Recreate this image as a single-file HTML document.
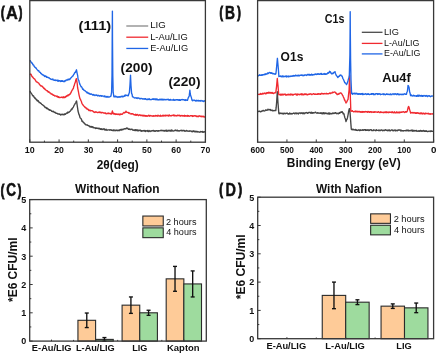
<!DOCTYPE html>
<html><head><meta charset="utf-8"><style>
html,body{margin:0;padding:0;background:#fff;width:437px;height:354px;overflow:hidden}
svg{display:block;filter:blur(0.35px)}
text{font-family:"Liberation Sans",sans-serif;fill:#111}
</style></head><body>
<svg width="437" height="354" viewBox="0 0 437 354" font-family="Liberation Sans, sans-serif">
<rect width="437" height="354" fill="#fff"/>
<polyline points="30.0,90.9 30.4,92.3 30.8,92.9 31.2,93.0 31.7,93.9 32.1,94.5 32.5,95.4 32.9,96.0 33.3,95.8 33.8,96.2 34.2,97.6 34.6,97.7 35.0,98.6 35.4,98.1 35.8,99.0 36.2,99.7 36.7,99.5 37.1,100.7 37.5,101.0 37.9,100.5 38.3,100.8 38.8,101.8 39.2,102.6 39.6,102.4 40.0,102.6 40.4,103.2 40.8,103.1 41.2,103.6 41.7,104.2 42.1,104.6 42.5,104.7 42.9,105.1 43.3,105.4 43.8,106.0 44.2,106.2 44.6,106.2 45.0,107.5 45.4,107.4 45.8,107.7 46.2,107.5 46.7,108.6 47.1,108.7 47.5,108.1 47.9,108.6 48.3,109.3 48.8,109.5 49.2,110.0 49.6,109.7 50.0,110.4 50.4,110.4 50.8,110.2 51.2,110.7 51.7,111.3 52.1,111.5 52.5,111.3 52.9,111.6 53.3,111.2 53.8,111.7 54.2,112.5 54.6,112.3 55.0,112.2 55.4,112.8 55.8,113.2 56.2,113.3 56.7,113.1 57.1,113.4 57.5,113.6 57.9,114.1 58.3,114.0 58.8,114.0 59.2,114.3 59.6,113.9 60.0,114.1 60.4,114.8 60.8,115.1 61.2,114.6 61.7,114.3 62.1,114.1 62.5,114.4 62.9,114.9 63.3,114.6 63.8,114.3 64.2,114.7 64.6,113.9 65.0,114.2 65.4,114.4 65.8,113.8 66.2,113.4 66.7,112.9 67.1,113.0 67.5,113.2 67.9,111.9 68.3,112.5 68.8,112.3 69.2,112.1 69.6,111.7 70.0,111.5 70.4,110.8 70.8,110.4 71.1,109.8 71.5,109.0 71.9,109.5 72.2,108.7 72.6,107.9 73.0,107.8 73.4,107.0 73.8,106.0 74.2,105.2 74.6,104.6 75.0,103.8 75.4,103.2 75.8,102.5 76.2,101.4 76.6,101.0 76.9,103.3 77.3,106.1 77.7,108.7 78.0,111.0 78.5,112.8 79.0,114.6 79.5,115.5 80.0,117.6 80.4,118.2 80.8,118.3 81.2,118.9 81.6,119.7 82.0,121.3 82.4,121.1 82.8,121.4 83.1,122.4 83.5,122.5 83.9,122.6 84.2,123.1 84.6,123.9 85.0,123.9 85.4,124.2 85.8,124.9 86.2,124.8 86.7,124.9 87.1,125.2 87.5,124.9 87.9,125.5 88.3,125.7 88.8,125.7 89.2,125.8 89.6,126.8 90.0,126.6 90.4,126.4 90.8,126.9 91.2,127.3 91.7,126.5 92.1,126.6 92.5,126.9 92.9,127.6 93.3,127.1 93.8,127.8 94.2,127.9 94.6,127.8 95.0,127.6 95.4,128.5 95.8,128.4 96.2,128.1 96.7,127.9 97.1,128.4 97.5,128.2 97.9,128.5 98.3,128.3 98.8,128.7 99.2,128.2 99.6,128.5 100.0,129.3 100.4,129.3 100.8,128.7 101.2,129.4 101.7,128.8 102.1,129.6 102.5,129.4 102.9,129.1 103.3,129.0 103.8,128.8 104.2,129.8 104.6,128.9 105.0,129.9 105.4,130.1 105.8,129.7 106.2,129.3 106.7,130.1 107.1,130.3 107.5,130.0 107.9,129.9 108.3,129.8 108.8,129.8 109.2,129.7 109.6,130.2 110.0,130.0 110.4,129.8 110.8,129.7 111.2,130.4 111.7,130.0 112.1,130.2 112.5,130.1 112.9,130.7 113.3,130.7 113.8,129.8 114.2,130.0 114.6,130.2 115.0,130.9 115.4,130.7 115.8,130.2 116.2,130.0 116.7,130.5 117.1,130.6 117.5,130.7 117.9,130.0 118.3,130.6 118.8,130.3 119.2,130.0 119.6,130.6 120.0,129.7 120.4,130.1 120.8,129.3 121.2,129.3 121.6,130.1 122.0,129.2 122.4,129.7 122.8,129.4 123.2,129.6 123.6,129.0 124.0,128.8 124.4,128.6 124.8,129.1 125.2,128.7 125.6,128.9 126.0,128.7 126.4,128.0 126.8,128.5 127.1,128.1 127.5,128.1 127.9,128.3 128.2,129.2 128.6,129.2 129.0,129.4 129.4,128.9 129.8,129.3 130.2,129.6 130.6,129.2 131.0,129.5 131.4,129.2 131.8,129.1 132.2,129.4 132.6,130.1 133.0,129.9 133.4,130.3 133.8,129.9 134.2,129.8 134.6,130.4 135.0,130.6 135.4,129.7 135.8,130.5 136.2,129.8 136.6,129.9 137.0,130.8 137.4,129.9 137.8,130.1 138.2,131.0 138.6,130.4 139.0,130.1 139.4,130.2 139.8,130.3 140.2,130.9 140.6,130.2 141.0,131.1 141.4,130.6 141.8,131.3 142.2,131.2 142.6,130.6 143.0,130.6 143.4,130.8 143.8,130.5 144.2,131.1 144.6,130.5 145.0,130.5 145.4,131.5 145.8,130.8 146.2,131.1 146.6,130.9 147.0,130.8 147.4,130.5 147.8,131.4 148.2,131.5 148.6,131.5 148.9,130.5 149.3,130.6 149.7,131.1 150.1,131.5 150.5,131.0 150.9,131.1 151.3,131.1 151.7,130.6 152.1,131.0 152.5,130.7 152.9,130.6 153.3,130.4 153.7,130.6 154.1,131.4 154.5,130.8 154.9,131.0 155.3,131.0 155.7,131.3 156.1,130.7 156.4,130.6 156.8,130.7 157.2,130.6 157.6,131.2 158.0,131.3 158.4,130.6 158.8,130.6 159.2,130.9 159.6,130.9 160.0,130.9 160.4,130.5 160.8,130.3 161.2,130.5 161.6,130.3 162.0,130.8 162.4,130.3 162.8,130.3 163.2,130.9 163.6,130.5 163.9,131.0 164.3,130.7 164.7,131.1 165.1,130.3 165.5,130.7 165.9,131.0 166.3,130.2 166.7,131.2 167.1,130.3 167.5,131.0 167.9,131.2 168.3,131.0 168.7,130.4 169.1,130.2 169.5,130.6 169.9,131.1 170.3,130.4 170.7,131.0 171.1,130.2 171.4,131.0 171.8,130.0 172.2,130.4 172.6,131.0 173.0,130.9 173.4,131.0 173.8,130.9 174.2,130.8 174.6,130.7 175.0,130.1 175.4,130.4 175.8,130.2 176.2,130.8 176.6,130.7 177.0,130.3 177.4,130.1 177.8,131.1 178.2,131.0 178.6,130.7 178.9,130.7 179.3,131.1 179.7,130.6 180.1,130.6 180.5,130.5 180.9,130.5 181.3,130.2 181.7,130.9 182.1,130.7 182.5,130.9 182.9,130.3 183.3,130.7 183.7,130.4 184.1,130.5 184.5,130.6 184.9,131.3 185.3,130.8 185.7,130.8 186.1,131.1 186.4,130.7 186.8,130.4 187.2,131.0 187.6,131.0 188.0,131.2 188.4,131.0 188.8,131.3 189.2,131.3 189.6,130.8 190.0,131.1 190.4,131.1 190.8,130.9 191.2,131.1 191.6,131.3 192.0,131.7 192.4,131.7 192.8,131.0 193.2,131.5 193.6,130.8 193.9,130.9 194.3,131.4 194.7,131.8 195.1,131.1 195.5,131.8 195.9,131.9 196.3,131.3 196.7,131.8 197.1,132.0 197.5,131.5 197.9,131.8 198.3,131.9 198.7,131.8 199.1,132.1 199.5,132.2 199.9,132.3 200.3,131.9 200.7,131.5 201.1,131.6 201.4,131.6 201.8,132.0 202.2,132.2 202.6,131.4 203.0,132.2 203.4,132.2 203.8,131.9 204.2,132.1 204.6,131.7 205.0,132.4" fill="none" stroke="#454545" stroke-width="1.35" stroke-linejoin="round"/>
<polyline points="30.0,73.9 30.4,74.5 30.8,74.0 31.2,74.6 31.7,76.0 32.1,76.5 32.5,77.0 32.9,77.1 33.3,77.9 33.8,78.4 34.2,78.9 34.6,78.9 35.0,79.7 35.4,80.1 35.8,80.9 36.2,81.6 36.7,82.0 37.1,82.0 37.5,82.3 37.9,82.6 38.3,82.8 38.8,83.2 39.2,84.1 39.6,84.4 40.0,84.9 40.4,85.8 40.8,85.7 41.2,86.1 41.7,86.0 42.1,86.1 42.5,86.8 42.9,86.9 43.3,87.7 43.8,88.5 44.2,88.5 44.6,88.3 45.0,89.4 45.4,89.7 45.8,89.9 46.2,90.4 46.7,90.6 47.1,90.9 47.5,90.8 47.9,91.8 48.3,92.1 48.8,91.6 49.2,92.5 49.6,92.8 50.0,92.9 50.4,93.2 50.8,93.4 51.2,94.1 51.7,93.9 52.1,94.5 52.5,94.2 52.9,95.0 53.3,95.3 53.8,95.0 54.2,95.4 54.6,96.0 55.0,96.0 55.4,95.9 55.8,95.8 56.2,96.0 56.7,96.6 57.1,96.1 57.5,97.0 57.9,96.5 58.3,97.3 58.8,96.8 59.2,97.6 59.6,97.5 60.0,97.4 60.4,97.4 60.8,97.5 61.2,97.4 61.7,97.1 62.1,97.0 62.5,97.3 62.9,97.8 63.3,97.4 63.8,96.8 64.2,97.6 64.6,97.5 65.0,97.6 65.4,96.6 65.8,97.0 66.2,96.0 66.7,96.4 67.1,95.7 67.5,95.4 67.9,95.9 68.3,94.8 68.8,95.0 69.2,95.1 69.6,94.2 70.0,93.9 70.4,94.0 70.8,92.8 71.1,92.5 71.5,91.1 71.9,90.9 72.2,90.0 72.6,89.9 73.0,88.6 73.4,88.4 73.8,86.2 74.2,85.8 74.6,83.9 75.0,82.9 75.3,82.3 75.7,80.4 76.1,79.3 76.4,78.6 76.8,81.1 77.2,83.5 77.6,87.5 78.0,89.6 78.5,92.0 79.0,94.8 79.5,96.9 80.0,98.9 80.4,99.1 80.8,100.3 81.2,100.9 81.6,102.3 82.0,103.6 82.4,104.1 82.8,104.8 83.1,105.1 83.5,105.7 83.9,106.1 84.2,106.3 84.6,106.6 85.0,107.6 85.4,107.5 85.8,107.5 86.1,108.2 86.5,108.9 86.9,108.4 87.2,109.1 87.6,109.2 88.0,109.6 88.4,109.4 88.8,110.5 89.2,110.0 89.6,110.6 90.0,110.6 90.4,110.3 90.8,111.0 91.2,110.6 91.7,110.6 92.1,110.7 92.5,111.0 92.9,111.0 93.3,111.7 93.8,111.7 94.2,112.3 94.6,112.4 95.0,112.5 95.4,111.8 95.8,112.0 96.2,111.9 96.7,112.3 97.1,112.4 97.5,112.6 97.9,112.6 98.3,112.1 98.8,112.4 99.2,112.5 99.6,112.0 100.0,112.1 100.4,112.5 100.8,112.3 101.2,113.0 101.7,112.5 102.1,112.4 102.5,112.5 102.9,112.7 103.3,112.7 103.8,113.1 104.2,113.1 104.6,112.9 105.0,113.4 105.4,112.9 105.8,113.7 106.2,113.8 106.7,113.6 107.1,113.3 107.5,113.5 107.9,113.6 108.3,113.0 108.8,113.5 109.2,113.6 109.6,113.3 110.0,113.3 110.4,114.0 110.8,113.5 111.2,113.6 111.6,114.1 112.0,112.5 112.4,111.0 112.8,113.0 113.2,113.7 113.6,113.3 114.0,114.1 114.4,113.5 114.8,113.8 115.2,114.5 115.6,114.3 116.0,113.7 116.4,114.2 116.8,114.2 117.2,114.4 117.6,114.1 118.0,114.6 118.4,114.0 118.8,114.2 119.2,114.3 119.6,114.9 120.0,113.9 120.4,114.6 120.8,114.0 121.2,114.3 121.6,114.1 122.0,114.2 122.4,114.2 122.8,113.6 123.2,113.0 123.6,112.7 124.0,112.4 124.4,113.0 124.8,112.5 125.2,112.6 125.6,112.1 126.0,111.1 126.4,112.0 126.8,112.3 127.1,112.4 127.5,112.3 127.9,112.3 128.2,112.6 128.6,113.2 129.0,112.7 129.4,113.1 129.8,113.2 130.2,113.8 130.6,113.8 131.0,114.0 131.4,114.0 131.8,113.6 132.2,113.6 132.6,114.0 133.0,113.9 133.4,114.2 133.8,114.6 134.2,114.9 134.6,114.7 135.0,115.0 135.4,114.3 135.8,114.6 136.2,115.4 136.6,114.5 137.0,114.8 137.4,114.5 137.8,114.6 138.2,115.5 138.6,115.6 139.0,115.3 139.4,114.8 139.8,115.0 140.2,115.0 140.6,115.5 141.0,115.6 141.4,115.3 141.8,115.5 142.2,115.1 142.6,115.6 143.0,116.1 143.4,115.9 143.8,115.2 144.2,115.7 144.6,116.0 145.0,115.5 145.4,116.2 145.8,115.8 146.2,116.0 146.6,115.7 147.0,116.3 147.4,116.1 147.8,115.9 148.2,115.4 148.6,115.7 148.9,115.3 149.3,115.9 149.7,116.2 150.1,115.4 150.5,115.8 150.9,115.7 151.3,115.7 151.7,116.0 152.1,116.2 152.5,116.0 152.9,115.7 153.3,116.3 153.7,115.6 154.1,116.0 154.5,115.9 154.9,116.0 155.3,116.1 155.7,115.4 156.1,115.9 156.4,115.6 156.8,115.9 157.2,116.2 157.6,115.9 158.0,115.2 158.4,115.7 158.8,115.9 159.2,116.1 159.6,115.9 160.0,116.0 160.4,115.2 160.8,116.2 161.2,115.9 161.6,115.8 162.0,116.1 162.4,116.1 162.8,115.2 163.2,116.0 163.6,115.9 163.9,115.3 164.3,115.9 164.7,115.7 165.1,115.3 165.5,116.0 165.9,115.2 166.3,115.7 166.7,115.5 167.1,115.3 167.5,115.7 167.9,115.6 168.3,115.3 168.7,116.1 169.1,115.1 169.5,115.0 169.9,115.6 170.3,115.9 170.7,115.7 171.1,115.8 171.4,115.5 171.8,115.7 172.2,115.4 172.6,115.3 173.0,115.5 173.4,115.0 173.8,115.1 174.2,115.8 174.6,115.1 175.0,115.8 175.4,115.8 175.8,115.4 176.2,115.7 176.6,115.9 177.0,116.0 177.4,115.2 177.8,115.2 178.2,115.5 178.6,115.6 178.9,115.4 179.3,115.1 179.7,115.7 180.1,116.2 180.5,115.5 180.9,115.7 181.3,115.5 181.7,115.6 182.1,116.1 182.5,115.5 182.9,115.9 183.3,115.7 183.7,115.8 184.1,116.2 184.5,115.3 184.9,116.1 185.3,115.6 185.7,115.9 186.1,116.1 186.4,116.0 186.8,115.7 187.2,116.2 187.6,115.4 188.0,116.0 188.4,115.7 188.8,115.9 189.2,116.3 189.6,116.2 190.0,116.0 190.4,115.7 190.8,115.6 191.2,115.9 191.6,115.7 192.0,115.7 192.4,116.5 192.8,115.6 193.2,116.4 193.6,115.9 193.9,115.9 194.3,115.9 194.7,115.6 195.1,116.1 195.5,115.8 195.9,116.1 196.3,115.9 196.7,116.6 197.1,116.6 197.5,116.1 197.9,116.4 198.3,116.7 198.7,116.1 199.1,115.8 199.5,116.0 199.9,116.0 200.3,116.5 200.7,116.2 201.1,116.2 201.4,116.7 201.8,116.1 202.2,116.7 202.6,116.6 203.0,116.3 203.4,116.8 203.8,116.3 204.2,116.9 204.6,117.0 205.0,116.5" fill="none" stroke="#f02a30" stroke-width="1.35" stroke-linejoin="round"/>
<polyline points="30.0,60.2 30.4,61.1 30.8,61.5 31.2,62.4 31.7,63.0 32.1,62.9 32.5,63.5 32.9,64.9 33.3,64.7 33.8,65.2 34.2,66.5 34.6,66.5 35.0,67.4 35.4,67.4 35.8,68.1 36.2,68.0 36.7,69.0 37.1,69.7 37.5,69.8 37.9,70.5 38.3,70.9 38.8,70.6 39.2,71.9 39.6,72.1 40.0,72.3 40.4,72.3 40.8,73.5 41.2,73.4 41.7,74.0 42.1,74.5 42.5,74.6 42.9,75.1 43.3,74.9 43.8,75.6 44.2,75.5 44.6,76.4 45.0,76.6 45.4,75.9 45.8,76.2 46.2,76.4 46.7,77.4 47.1,77.0 47.5,77.4 47.9,77.3 48.3,77.7 48.8,77.7 49.2,77.9 49.6,78.3 50.0,78.5 50.4,79.0 50.8,78.9 51.2,79.3 51.7,79.4 52.1,79.6 52.5,79.4 52.9,79.0 53.3,79.9 53.8,80.2 54.2,80.3 54.6,80.0 55.0,80.3 55.4,79.9 55.8,80.6 56.2,80.4 56.7,80.2 57.1,80.0 57.5,81.0 57.9,81.2 58.3,80.3 58.8,81.2 59.2,80.8 59.6,80.6 60.0,80.9 60.4,81.4 60.8,81.5 61.2,80.6 61.7,81.2 62.1,80.6 62.5,81.3 62.9,80.9 63.3,81.5 63.8,81.6 64.2,81.0 64.6,81.6 65.0,80.8 65.4,80.4 65.8,80.8 66.2,80.0 66.7,80.0 67.1,80.0 67.5,80.1 67.9,79.4 68.3,79.1 68.8,79.8 69.2,79.0 69.6,79.6 70.0,79.3 70.4,78.4 70.8,78.0 71.1,77.7 71.5,77.4 71.9,76.9 72.2,76.5 72.6,76.1 73.0,76.1 73.4,75.0 73.8,74.3 74.2,74.0 74.6,72.8 75.0,72.3 75.4,72.5 75.8,71.4 76.1,70.9 76.5,69.8 76.9,72.1 77.3,74.1 77.7,75.7 78.0,78.6 78.4,79.8 78.8,80.4 79.2,82.2 79.6,83.3 80.0,84.7 80.4,85.0 80.8,86.1 81.2,86.9 81.6,86.8 82.0,87.5 82.4,88.6 82.8,89.4 83.2,89.0 83.6,89.7 84.0,90.3 84.4,90.3 84.8,90.6 85.1,90.9 85.5,91.2 85.9,91.7 86.2,91.7 86.6,92.1 87.0,92.8 87.4,92.2 87.8,93.0 88.1,93.3 88.5,93.0 88.9,93.1 89.2,94.0 89.6,93.5 90.0,93.7 90.4,94.0 90.8,94.4 91.2,93.9 91.7,94.2 92.1,94.3 92.5,95.0 92.9,94.6 93.3,95.2 93.8,94.5 94.2,94.8 94.6,95.3 95.0,95.6 95.4,95.2 95.8,95.0 96.2,94.9 96.7,95.4 97.1,95.1 97.5,95.8 97.9,95.9 98.3,95.3 98.8,95.4 99.2,96.0 99.6,95.9 100.0,96.1 100.4,95.7 100.8,95.5 101.2,95.7 101.7,96.3 102.1,95.8 102.5,95.9 102.9,96.1 103.3,96.1 103.8,96.2 104.2,96.8 104.6,96.0 105.0,95.9 105.4,96.9 105.8,96.9 106.2,97.1 106.7,96.5 107.1,97.1 107.5,97.1 107.9,96.4 108.3,97.0 108.8,97.1 109.2,97.0 109.6,96.9 110.0,96.7 110.5,96.4 111.0,95.9 111.6,92.0 112.0,75.1 112.2,39.8 112.4,11.1 112.5,39.5 112.8,75.4 113.2,92.7 113.6,94.9 113.9,96.8 114.3,96.9 114.7,96.6 115.1,96.0 115.5,96.9 116.0,96.3 116.4,96.5 116.8,97.0 117.2,96.9 117.6,96.8 118.0,97.5 118.4,97.1 118.8,96.7 119.2,96.6 119.6,97.2 120.0,96.8 120.4,97.1 120.8,96.6 121.2,96.3 121.6,96.7 122.0,96.9 122.4,96.1 122.8,96.7 123.2,96.7 123.6,96.5 124.0,96.4 124.4,95.3 124.8,95.9 125.2,96.0 125.6,95.0 126.0,95.1 126.4,95.2 126.8,95.5 127.2,95.4 127.7,95.5 128.1,95.9 128.5,95.1 128.9,93.8 129.4,92.6 130.0,84.6 130.5,75.1 131.0,85.5 131.6,93.4 132.1,94.4 132.5,96.8 132.9,96.8 133.3,97.0 133.8,97.3 134.2,97.8 134.6,98.0 135.0,97.9 135.4,97.8 135.8,98.0 136.2,97.8 136.7,98.3 137.1,98.5 137.5,98.1 137.9,97.8 138.3,97.9 138.8,98.2 139.2,98.5 139.6,98.7 140.0,98.3 140.4,98.8 140.8,98.7 141.2,98.5 141.7,98.5 142.1,98.7 142.5,99.0 142.9,98.7 143.3,99.1 143.8,98.9 144.2,98.7 144.6,99.1 145.0,99.3 145.4,98.6 145.8,99.0 146.2,99.1 146.6,99.6 147.0,99.6 147.4,99.0 147.8,99.6 148.2,99.5 148.6,98.9 148.9,99.2 149.3,98.8 149.7,99.6 150.1,99.4 150.5,99.7 150.9,99.6 151.3,99.5 151.7,99.5 152.1,99.4 152.5,98.9 152.9,99.4 153.3,98.8 153.7,98.9 154.1,99.6 154.5,98.9 154.9,98.9 155.3,98.9 155.7,99.8 156.1,99.0 156.4,98.9 156.8,99.8 157.2,99.0 157.6,99.8 158.0,99.6 158.4,99.8 158.8,100.0 159.2,99.6 159.6,99.8 160.0,99.0 160.4,99.8 160.8,99.5 161.2,99.8 161.6,99.1 162.0,99.8 162.4,100.0 162.8,99.1 163.2,99.4 163.6,99.7 163.9,100.0 164.3,99.3 164.7,99.3 165.1,99.4 165.5,99.8 165.9,99.9 166.3,99.6 166.7,99.5 167.1,99.6 167.5,99.5 167.9,99.6 168.3,99.3 168.7,99.7 169.1,100.3 169.5,99.7 169.9,100.0 170.3,99.4 170.7,100.0 171.1,100.1 171.4,100.0 171.8,99.8 172.2,99.8 172.6,100.0 173.0,100.3 173.4,99.5 173.8,99.4 174.2,100.2 174.6,100.3 175.0,99.9 175.4,99.8 175.8,100.1 176.2,99.6 176.6,99.7 177.0,99.6 177.4,100.0 177.8,99.7 178.2,99.6 178.6,100.1 179.0,100.4 179.4,99.7 179.8,100.2 180.2,99.8 180.6,100.3 181.0,100.0 181.5,99.7 181.9,99.6 182.3,99.4 182.7,99.9 183.1,99.8 183.5,99.6 183.9,99.8 184.3,99.8 184.7,100.3 185.1,99.6 185.5,100.5 185.9,100.0 186.3,100.1 186.7,100.0 187.1,100.4 187.5,100.4 187.9,98.9 188.3,97.7 188.8,96.9 189.2,95.9 189.6,92.6 189.9,90.2 190.2,93.2 190.6,95.5 191.0,96.4 191.4,97.6 191.8,99.3 192.2,100.5 192.6,100.8 193.0,100.7 193.4,100.1 193.8,100.1 194.2,100.2 194.6,100.1 195.0,100.7 195.4,100.9 195.8,101.0 196.2,100.3 196.6,101.0 197.0,100.4 197.4,100.6 197.8,100.9 198.2,100.3 198.6,100.3 199.0,101.1 199.4,100.6 199.8,100.7 200.2,101.0 200.6,101.1 201.0,100.4 201.4,100.8 201.8,100.9 202.2,101.0 202.6,100.7 203.0,101.2 203.4,101.6 203.8,101.0 204.2,101.2 204.6,100.8 205.0,101.0" fill="none" stroke="#2066e6" stroke-width="1.35" stroke-linejoin="round"/>
<rect x="29.8" y="0.6" width="175.6" height="141.6" fill="none" stroke="#383838" stroke-width="1.3"/>
<line x1="29.80" y1="142.2" x2="29.80" y2="139.39999999999998" stroke="#383838" stroke-width="1"/>
<text transform="translate(24.77,152.60) scale(0.909,1)" font-size="9.8" font-weight="bold">10</text>
<line x1="59.07" y1="142.2" x2="59.07" y2="139.39999999999998" stroke="#383838" stroke-width="1"/>
<text transform="translate(54.31,152.60) scale(0.883,1)" font-size="9.8" font-weight="bold">20</text>
<line x1="88.33" y1="142.2" x2="88.33" y2="139.39999999999998" stroke="#383838" stroke-width="1"/>
<text transform="translate(83.66,152.60) scale(0.875,1)" font-size="9.8" font-weight="bold">30</text>
<line x1="117.60" y1="142.2" x2="117.60" y2="139.39999999999998" stroke="#383838" stroke-width="1"/>
<text transform="translate(112.93,152.60) scale(0.875,1)" font-size="9.8" font-weight="bold">40</text>
<line x1="146.87" y1="142.2" x2="146.87" y2="139.39999999999998" stroke="#383838" stroke-width="1"/>
<text transform="translate(142.11,152.60) scale(0.883,1)" font-size="9.8" font-weight="bold">50</text>
<line x1="176.13" y1="142.2" x2="176.13" y2="139.39999999999998" stroke="#383838" stroke-width="1"/>
<text transform="translate(171.28,152.60) scale(0.892,1)" font-size="9.8" font-weight="bold">60</text>
<line x1="205.40" y1="142.2" x2="205.40" y2="139.39999999999998" stroke="#383838" stroke-width="1"/>
<text transform="translate(200.55,152.60) scale(0.892,1)" font-size="9.8" font-weight="bold">70</text>
<line x1="44.43" y1="142.2" x2="44.43" y2="140.6" stroke="#383838" stroke-width="1"/>
<line x1="73.70" y1="142.2" x2="73.70" y2="140.6" stroke="#383838" stroke-width="1"/>
<line x1="102.97" y1="142.2" x2="102.97" y2="140.6" stroke="#383838" stroke-width="1"/>
<line x1="132.23" y1="142.2" x2="132.23" y2="140.6" stroke="#383838" stroke-width="1"/>
<line x1="161.50" y1="142.2" x2="161.50" y2="140.6" stroke="#383838" stroke-width="1"/>
<line x1="190.77" y1="142.2" x2="190.77" y2="140.6" stroke="#383838" stroke-width="1"/>
<text transform="translate(96.64,169.20) scale(1.001,1)" font-size="11.9" font-weight="bold">2θ(deg)</text>
<line x1="126.3" y1="26.0" x2="148.2" y2="26.0" stroke="#888888" stroke-width="1.3"/>
<text transform="translate(150.13,28.30) scale(1.123,1)" font-size="8.6" font-weight="normal">LIG</text>
<line x1="126.3" y1="37.2" x2="148.2" y2="37.2" stroke="#f02a30" stroke-width="1.3"/>
<text transform="translate(150.15,39.60) scale(1.093,1)" font-size="8.6" font-weight="normal">L-Au/LIG</text>
<line x1="126.3" y1="48.45" x2="148.2" y2="48.45" stroke="#2066e6" stroke-width="1.3"/>
<text transform="translate(150.16,50.70) scale(1.075,1)" font-size="8.6" font-weight="normal">E-Au/LIG</text>
<text transform="translate(78.56,29.80) scale(1.107,1)" font-size="13.3" font-weight="bold">(111)</text>
<text transform="translate(120.61,72.20) scale(1.030,1)" font-size="13.3" font-weight="bold">(200)</text>
<text transform="translate(168.41,85.60) scale(1.034,1)" font-size="13.3" font-weight="bold">(220)</text>
<text transform="translate(1.01,17.80) scale(0.616,1)" font-size="17.4" font-weight="bold" stroke="#111" stroke-width="1.14">(</text>
<text transform="translate(6.11,18.50) scale(0.919,1)" font-size="17.8" font-weight="bold" stroke="#111" stroke-width="0.44">A</text>
<text transform="translate(18.85,17.80) scale(0.616,1)" font-size="17.4" font-weight="bold" stroke="#111" stroke-width="1.14">)</text>
<polyline points="258.0,111.5 258.4,111.3 258.8,111.6 259.2,111.2 259.6,111.1 260.0,111.4 260.4,111.9 260.8,111.7 261.2,111.6 261.6,111.0 262.0,111.2 262.4,110.8 262.8,110.6 263.2,110.4 263.6,110.5 264.0,111.1 264.4,110.9 264.8,110.8 265.2,110.7 265.6,109.9 266.0,109.9 266.4,110.2 266.8,110.2 267.2,110.2 267.6,110.1 268.0,109.1 268.4,109.8 268.8,109.9 269.2,109.8 269.6,109.5 270.0,109.9 270.4,109.5 270.8,110.5 271.2,110.5 271.6,110.2 272.0,110.0 272.4,110.7 272.8,110.4 273.1,110.8 273.5,110.8 273.9,110.5 274.3,110.5 274.7,110.7 275.0,110.6 275.4,110.4 275.8,110.6 276.2,107.2 276.6,102.5 277.0,96.8 277.3,91.6 277.6,97.0 278.0,103.0 278.4,108.1 278.8,113.1 279.2,113.9 279.6,113.0 280.0,113.3 280.5,113.1 280.9,113.5 281.3,113.2 281.7,113.3 282.1,113.7 282.5,113.3 282.9,113.6 283.3,114.0 283.8,113.1 284.2,113.1 284.6,113.3 285.0,113.9 285.4,113.7 285.8,113.3 286.2,113.4 286.6,113.2 287.0,113.5 287.4,113.1 287.8,113.8 288.2,114.0 288.6,114.1 288.9,113.8 289.3,114.0 289.7,113.0 290.1,113.3 290.5,114.0 290.9,113.8 291.3,113.4 291.7,114.0 292.1,113.6 292.5,113.8 292.9,113.3 293.3,113.2 293.7,113.4 294.1,113.1 294.5,113.3 294.9,114.0 295.3,113.3 295.7,112.9 296.1,113.0 296.4,113.1 296.8,113.8 297.2,113.3 297.6,113.2 298.0,113.0 298.4,114.0 298.8,113.3 299.2,113.1 299.6,112.9 300.0,112.9 300.4,113.0 300.8,113.5 301.2,112.9 301.6,112.8 302.0,113.3 302.4,113.0 302.8,113.8 303.2,112.8 303.6,113.2 303.9,113.5 304.3,113.0 304.7,113.7 305.1,113.1 305.5,112.8 305.9,112.9 306.3,112.5 306.7,112.9 307.1,112.7 307.5,113.4 307.9,113.3 308.3,112.9 308.7,112.4 309.1,112.6 309.5,112.5 309.9,112.5 310.3,112.5 310.7,113.2 311.1,112.3 311.4,112.2 311.8,113.2 312.2,112.7 312.6,113.2 313.0,112.5 313.4,113.0 313.8,112.7 314.2,112.9 314.6,112.8 315.0,112.5 315.4,112.1 315.8,112.3 316.2,113.0 316.7,113.1 317.1,113.2 317.5,112.6 317.9,113.0 318.3,113.2 318.8,113.0 319.2,113.3 319.6,113.0 320.0,113.2 320.4,113.2 320.8,112.8 321.2,113.5 321.6,113.6 322.0,112.7 322.4,113.7 322.8,113.7 323.2,113.4 323.6,112.7 324.0,113.7 324.4,112.9 324.8,113.8 325.2,113.5 325.6,112.9 326.0,113.0 326.4,113.5 326.8,113.5 327.2,113.7 327.6,113.9 328.0,113.2 328.4,113.0 328.8,114.0 329.2,113.0 329.6,114.0 330.0,113.2 330.4,113.9 330.8,113.8 331.2,113.9 331.7,113.5 332.1,113.8 332.5,113.0 332.9,113.4 333.3,113.0 333.8,113.6 334.2,113.4 334.6,113.0 335.0,113.0 335.4,112.6 335.8,112.7 336.1,113.4 336.5,113.3 336.9,113.8 337.2,113.6 337.6,113.2 338.0,113.5 338.4,113.8 338.8,113.3 339.2,112.6 339.6,113.3 340.0,113.1 340.4,112.1 340.8,112.4 341.2,112.0 341.6,112.3 342.0,111.6 342.4,112.0 342.8,112.8 343.2,113.9 343.6,113.4 344.0,114.0 344.4,115.9 344.8,117.5 345.2,118.4 345.6,119.7 346.0,121.5 346.4,120.6 346.8,119.1 347.1,119.2 347.5,117.7 347.9,115.7 348.2,114.1 348.6,111.5 349.0,109.8 349.3,108.6 349.6,108.9 350.1,113.4 350.5,118.6 350.9,124.1 351.3,129.1 351.7,129.4 352.1,129.9 352.5,129.7 352.9,129.0 353.3,129.4 353.6,129.7 354.0,129.7 354.4,130.0 354.8,129.8 355.2,129.4 355.6,129.7 356.0,130.4 356.4,129.8 356.8,130.3 357.2,130.5 357.6,130.2 358.0,130.2 358.4,130.1 358.8,129.8 359.2,130.5 359.6,130.0 360.0,130.5 360.4,129.8 360.8,130.4 361.2,130.4 361.6,130.2 362.0,130.0 362.4,129.7 362.8,130.4 363.2,129.9 363.6,130.2 364.0,129.7 364.4,129.6 364.8,129.7 365.2,130.4 365.6,129.7 366.0,130.5 366.4,129.9 366.8,130.2 367.2,129.9 367.6,130.2 368.0,129.7 368.4,130.0 368.8,130.6 369.2,129.8 369.6,130.3 370.0,129.9 370.4,129.9 370.8,129.6 371.2,129.6 371.6,130.6 372.0,130.5 372.4,130.5 372.8,130.5 373.2,130.6 373.6,129.8 374.0,130.2 374.4,130.1 374.8,130.2 375.2,130.6 375.6,130.4 376.0,130.7 376.4,129.7 376.8,130.3 377.2,130.4 377.6,130.4 378.0,130.3 378.4,130.6 378.8,130.0 379.2,130.7 379.6,130.1 380.0,130.3 380.4,130.6 380.8,130.4 381.2,130.0 381.6,129.9 382.0,130.0 382.4,130.4 382.8,130.8 383.2,130.7 383.6,130.1 384.0,130.1 384.4,130.6 384.8,130.0 385.2,130.2 385.6,129.7 386.0,129.9 386.4,130.3 386.8,130.5 387.2,130.4 387.6,130.1 388.0,130.8 388.4,130.4 388.8,129.9 389.2,129.8 389.6,130.8 390.0,130.8 390.4,130.8 390.8,130.4 391.2,130.1 391.6,129.9 392.0,130.1 392.4,130.0 392.8,130.8 393.2,130.8 393.6,130.6 394.0,130.0 394.4,130.1 394.8,130.1 395.2,130.8 395.6,130.0 396.0,130.7 396.4,130.6 396.8,130.4 397.2,130.9 397.6,130.1 398.0,130.4 398.4,130.0 398.8,129.9 399.2,129.9 399.6,130.2 400.0,130.0 400.4,129.9 400.8,131.0 401.2,130.2 401.6,130.9 402.0,130.7 402.4,130.7 402.8,130.6 403.2,131.0 403.6,130.9 404.0,130.7 404.4,130.6 404.8,130.7 405.2,130.8 405.6,130.6 406.0,130.5 406.4,130.1 406.8,130.9 407.2,130.5 407.6,130.1 408.0,130.2 408.4,131.0 408.8,130.3 409.2,130.5 409.6,130.8 410.0,131.0 410.4,130.4 410.8,130.5 411.2,130.5 411.6,130.1 412.0,131.1 412.4,130.1 412.8,131.2 413.2,130.3 413.6,130.3 414.0,131.1 414.4,131.0 414.8,130.4 415.2,130.8 415.6,130.7 416.0,131.0 416.4,130.4 416.8,131.1 417.2,131.3 417.6,131.0 418.0,131.2 418.4,131.2 418.8,130.6 419.2,131.2 419.6,131.2 420.0,130.9 420.4,130.4 420.8,131.0 421.2,131.3 421.6,130.6 422.0,131.0 422.4,131.3 422.8,131.0 423.2,130.4 423.7,131.1 424.1,130.7 424.5,131.3 424.9,131.1 425.3,130.8 425.7,131.4 426.1,131.1 426.5,130.8 426.9,131.4 427.3,131.5 427.7,131.5 428.1,131.5 428.5,131.2 428.9,131.3 429.3,131.2 429.8,131.1 430.2,131.6 430.6,131.0 431.0,130.7 431.4,131.4 431.8,131.2 432.2,131.2 432.6,131.3 433.0,130.9" fill="none" stroke="#454545" stroke-width="1.35" stroke-linejoin="round"/>
<polyline points="258.0,94.2 258.4,94.3 258.8,94.4 259.2,94.5 259.6,94.2 260.0,94.4 260.4,93.4 260.8,93.8 261.2,94.3 261.6,94.0 262.0,94.2 262.4,93.3 262.8,93.7 263.2,93.4 263.6,93.7 264.0,93.7 264.4,93.0 264.8,93.2 265.2,93.2 265.6,93.8 266.0,93.6 266.4,92.8 266.8,93.5 267.2,92.7 267.6,93.1 268.0,92.5 268.4,92.3 268.8,93.2 269.2,92.4 269.6,92.4 270.0,93.1 270.4,93.0 270.8,92.4 271.2,93.2 271.5,92.8 271.9,93.0 272.3,92.5 272.7,93.4 273.1,93.1 273.5,93.5 273.9,93.4 274.3,92.8 274.6,92.9 275.0,92.8 275.4,92.8 275.8,92.7 276.2,89.4 276.6,86.1 277.0,81.6 277.3,78.5 277.6,82.0 278.0,85.8 278.4,90.7 278.8,94.7 279.2,94.5 279.6,94.7 280.0,94.9 280.5,94.2 280.9,95.2 281.3,94.1 281.7,94.9 282.1,95.0 282.5,94.1 282.9,94.9 283.3,94.5 283.8,94.7 284.2,94.1 284.6,94.1 285.0,94.2 285.4,95.1 285.8,94.3 286.2,94.9 286.6,95.1 287.0,95.1 287.4,94.4 287.8,94.4 288.2,94.6 288.6,94.9 288.9,94.1 289.3,94.8 289.7,94.9 290.1,94.9 290.5,94.0 290.9,95.0 291.3,94.1 291.7,94.3 292.1,94.6 292.5,95.0 292.9,94.3 293.3,95.0 293.7,94.5 294.1,94.3 294.5,94.3 294.9,94.1 295.3,94.0 295.7,94.1 296.1,94.7 296.4,95.0 296.8,94.1 297.2,93.9 297.6,95.0 298.0,94.5 298.4,94.3 298.8,94.1 299.2,94.5 299.6,94.8 300.0,94.4 300.4,94.3 300.8,93.9 301.2,94.8 301.6,93.8 302.0,94.3 302.4,94.7 302.8,93.9 303.2,94.6 303.6,94.8 304.0,94.4 304.4,94.6 304.8,93.8 305.2,94.2 305.6,93.9 306.0,94.6 306.4,94.0 306.8,94.2 307.2,94.8 307.6,94.6 308.0,94.7 308.4,94.1 308.8,94.2 309.2,94.4 309.6,94.1 310.0,93.9 310.4,94.0 310.8,93.7 311.2,94.0 311.6,94.6 312.0,94.6 312.4,94.2 312.8,94.1 313.2,93.9 313.6,93.6 314.0,93.8 314.4,94.4 314.8,94.4 315.2,93.9 315.6,94.3 316.0,94.3 316.4,94.2 316.8,94.2 317.2,94.3 317.6,93.8 318.0,94.2 318.4,93.7 318.8,93.9 319.2,94.2 319.6,94.1 320.0,93.7 320.4,94.4 320.8,94.0 321.2,93.9 321.6,93.3 322.0,93.8 322.4,93.5 322.8,93.9 323.2,93.6 323.6,94.0 324.0,93.8 324.4,93.9 324.8,93.4 325.2,93.7 325.6,93.8 326.0,93.8 326.4,93.3 326.8,93.8 327.2,93.8 327.6,93.6 328.0,93.9 328.4,93.8 328.8,93.3 329.2,93.3 329.6,92.9 330.0,93.6 330.4,93.6 330.8,92.9 331.2,93.1 331.7,93.0 332.1,92.9 332.5,92.1 332.9,92.7 333.3,92.4 333.8,92.3 334.2,91.9 334.6,92.1 335.0,92.1 335.4,92.5 335.8,93.2 336.2,93.0 336.6,93.7 337.0,94.5 337.4,94.6 337.8,94.0 338.2,94.4 338.6,94.2 339.0,93.4 339.4,93.7 339.8,93.3 340.2,93.0 340.6,92.9 341.0,93.0 341.4,93.4 341.8,94.0 342.2,94.4 342.6,95.4 343.0,95.9 343.4,97.0 343.8,97.9 344.1,98.4 344.5,100.0 344.9,99.9 345.2,101.2 345.6,102.0 346.0,103.0 346.4,102.0 346.8,102.1 347.2,100.9 347.6,99.8 348.0,99.7 348.4,96.0 348.7,93.2 349.1,89.8 349.6,75.1 350.1,90.5 350.5,100.8 350.8,110.8 351.2,111.3 351.6,111.2 352.0,110.9 352.4,110.7 352.8,111.3 353.2,111.3 353.6,111.8 354.0,111.8 354.4,111.5 354.8,111.3 355.2,111.9 355.6,111.0 356.0,111.2 356.4,111.7 356.8,111.7 357.2,111.2 357.6,111.8 358.0,112.1 358.4,111.5 358.8,111.6 359.2,111.4 359.6,111.5 360.0,112.2 360.4,111.6 360.8,112.2 361.2,112.2 361.6,111.8 362.0,111.5 362.4,112.3 362.8,111.8 363.2,111.7 363.6,111.6 364.0,112.3 364.4,111.8 364.8,111.6 365.2,111.8 365.6,111.4 366.0,112.0 366.4,111.8 366.8,111.6 367.2,112.2 367.6,112.2 368.0,111.4 368.4,111.9 368.8,111.7 369.2,112.4 369.6,112.3 370.0,111.7 370.4,111.7 370.8,111.6 371.2,112.5 371.6,111.8 372.0,112.1 372.4,112.0 372.8,112.2 373.2,112.1 373.6,112.3 374.0,111.6 374.4,112.3 374.8,111.9 375.2,112.1 375.6,111.9 376.0,111.9 376.4,112.1 376.8,112.1 377.2,112.0 377.6,112.4 378.0,112.2 378.4,111.7 378.8,111.9 379.2,112.1 379.6,112.6 380.0,112.6 380.4,112.3 380.8,111.7 381.2,112.5 381.6,112.1 382.0,112.3 382.4,112.5 382.8,112.4 383.2,112.2 383.6,112.7 384.0,112.1 384.4,112.1 384.8,112.6 385.2,111.9 385.6,112.0 386.0,112.6 386.4,111.8 386.8,112.6 387.2,112.5 387.6,112.2 388.0,112.0 388.4,112.6 388.8,112.7 389.2,111.9 389.6,112.3 390.0,112.4 390.4,112.3 390.8,112.1 391.2,111.9 391.6,112.4 392.0,112.7 392.4,111.8 392.8,112.0 393.2,112.7 393.6,112.7 394.0,112.5 394.4,111.8 394.8,112.6 395.2,112.9 395.6,112.9 396.0,112.6 396.4,111.9 396.8,112.7 397.2,112.1 397.6,112.5 398.0,112.9 398.4,112.6 398.8,112.0 399.2,112.2 399.6,112.9 400.0,112.0 400.4,112.5 400.8,112.3 401.2,112.0 401.6,112.4 402.0,111.8 402.4,111.8 402.8,112.1 403.2,111.7 403.6,111.7 404.0,112.2 404.4,112.4 404.8,112.5 405.2,111.7 405.6,112.0 406.0,111.8 406.4,112.1 406.8,112.0 407.3,111.0 407.8,108.9 408.2,107.2 408.7,106.5 409.1,107.5 409.6,109.6 410.1,111.1 410.6,113.1 411.0,112.7 411.4,112.8 411.8,112.4 412.2,112.8 412.6,112.5 413.1,113.1 413.5,112.9 413.9,112.5 414.3,112.6 414.7,112.8 415.1,113.2 415.5,112.7 415.9,113.3 416.3,113.3 416.7,112.7 417.1,113.3 417.5,112.7 418.0,112.8 418.4,113.4 418.8,113.0 419.2,113.7 419.6,113.3 420.0,113.2 420.4,113.7 420.8,112.9 421.2,113.7 421.6,113.0 422.0,113.1 422.4,114.0 422.8,113.7 423.2,113.2 423.7,113.1 424.1,114.1 424.5,113.8 424.9,113.9 425.3,113.2 425.7,113.8 426.1,113.5 426.5,113.4 426.9,113.5 427.3,113.8 427.7,113.5 428.1,113.6 428.5,113.3 428.9,114.1 429.3,113.9 429.8,114.1 430.2,113.7 430.6,114.2 431.0,113.8 431.4,113.9 431.8,113.9 432.2,114.1 432.6,113.8 433.0,113.5" fill="none" stroke="#f02a30" stroke-width="1.35" stroke-linejoin="round"/>
<polyline points="258.0,75.8 258.4,75.8 258.8,75.4 259.2,75.1 259.6,74.7 260.0,75.4 260.4,75.1 260.8,75.4 261.2,74.9 261.6,75.3 262.0,74.6 262.4,75.2 262.8,75.0 263.2,74.6 263.6,74.7 264.0,74.8 264.4,74.1 264.8,74.4 265.2,74.6 265.6,73.8 266.0,74.3 266.4,74.0 266.8,74.1 267.2,73.4 267.6,73.0 268.0,73.7 268.4,73.5 268.8,73.0 269.2,72.5 269.6,72.5 270.0,72.8 270.4,72.6 270.8,73.4 271.2,73.1 271.6,72.7 272.0,73.3 272.4,73.1 272.8,73.8 273.2,73.9 273.6,73.5 274.0,73.8 274.4,73.9 274.8,74.1 275.1,74.4 275.5,73.4 275.9,73.8 276.3,70.1 276.7,65.8 277.0,62.5 277.4,58.3 277.8,62.8 278.1,66.0 278.5,70.8 278.9,76.6 279.3,76.2 279.7,76.1 280.1,76.4 280.5,76.0 280.9,76.1 281.3,76.8 281.7,76.7 282.2,75.9 282.6,76.8 283.0,75.9 283.4,76.3 283.8,76.9 284.2,76.6 284.6,76.3 285.0,76.4 285.4,76.3 285.8,76.0 286.2,77.0 286.6,75.9 287.0,76.3 287.4,76.6 287.8,76.2 288.2,76.8 288.6,76.0 288.9,76.7 289.3,76.6 289.7,76.3 290.1,76.6 290.5,76.0 290.9,76.4 291.3,76.4 291.7,76.0 292.1,75.9 292.5,76.2 292.9,75.8 293.3,75.4 293.7,76.1 294.1,75.6 294.5,75.8 294.9,76.1 295.3,75.4 295.7,75.2 296.1,75.3 296.4,75.8 296.8,75.5 297.2,75.3 297.6,75.5 298.0,76.0 298.4,75.2 298.8,75.4 299.2,75.9 299.6,75.6 300.0,75.1 300.4,75.3 300.8,75.3 301.2,74.9 301.6,75.2 302.0,75.1 302.4,75.6 302.8,75.0 303.2,75.4 303.6,75.7 303.9,75.6 304.3,75.0 304.7,75.2 305.1,74.9 305.5,75.0 305.9,75.0 306.3,75.3 306.7,75.5 307.1,74.7 307.5,74.4 307.9,74.9 308.3,74.4 308.7,74.4 309.1,75.2 309.5,74.4 309.9,75.0 310.3,74.6 310.7,75.2 311.1,75.1 311.4,74.2 311.8,74.4 312.2,75.2 312.6,74.8 313.0,74.5 313.4,74.9 313.8,74.9 314.2,74.5 314.6,74.5 315.0,74.1 315.4,74.3 315.8,74.0 316.2,74.5 316.7,74.4 317.1,73.9 317.5,74.3 317.9,73.7 318.3,73.7 318.8,74.2 319.2,74.0 319.6,74.4 320.0,74.0 320.4,74.1 320.8,73.5 321.2,74.3 321.6,73.4 321.9,74.0 322.3,74.4 322.7,74.3 323.1,74.3 323.5,73.8 323.9,74.1 324.3,74.2 324.7,73.5 325.1,74.4 325.4,74.3 325.8,73.8 326.2,74.2 326.6,73.8 327.0,73.7 327.4,73.8 327.8,72.8 328.1,73.3 328.5,73.2 328.9,72.2 329.2,72.6 329.6,71.3 330.0,71.9 330.4,71.7 330.8,73.0 331.2,72.9 331.6,73.9 332.0,73.4 332.4,73.2 332.8,73.8 333.1,73.4 333.5,73.0 333.9,72.3 334.2,72.2 334.6,72.2 335.0,71.6 335.4,73.5 335.8,74.2 336.2,75.3 336.7,75.9 337.1,76.4 337.5,77.0 337.9,77.5 338.2,76.5 338.6,76.7 339.0,76.4 339.4,76.1 339.8,75.4 340.1,75.1 340.5,75.3 340.9,75.0 341.2,75.8 341.6,75.7 342.0,76.1 342.4,76.9 342.8,78.3 343.2,79.0 343.6,79.8 344.0,80.7 344.4,81.7 344.8,82.8 345.2,82.9 345.7,83.2 346.1,84.0 346.5,84.6 346.9,84.0 347.2,83.3 347.6,82.1 348.0,80.7 348.4,79.1 348.9,77.5 349.3,75.9 349.9,54.9 350.1,30.5 350.2,11.7 350.3,30.2 350.6,60.2 351.0,80.2 351.3,87.1 351.6,93.5 352.0,93.8 352.4,94.2 352.8,93.3 353.2,93.8 353.6,93.6 354.0,93.2 354.4,93.2 354.8,94.0 355.2,93.3 355.6,94.0 356.0,93.4 356.4,93.7 356.8,93.3 357.2,93.9 357.6,94.2 358.0,93.6 358.4,94.0 358.8,94.4 359.2,93.7 359.6,93.9 360.0,94.2 360.4,94.4 360.8,93.6 361.2,94.2 361.6,93.6 362.0,93.6 362.4,94.6 362.8,93.5 363.2,94.5 363.6,94.3 364.0,94.2 364.4,94.3 364.8,94.2 365.2,93.8 365.6,94.0 366.0,93.7 366.4,94.5 366.8,94.4 367.2,94.4 367.6,93.8 368.0,94.2 368.4,93.8 368.8,94.4 369.2,94.4 369.6,94.6 370.0,94.3 370.4,94.3 370.8,94.4 371.2,93.7 371.6,94.2 372.0,93.6 372.4,94.0 372.8,93.7 373.2,94.6 373.6,93.6 374.0,94.6 374.4,94.6 374.8,94.1 375.2,94.5 375.6,93.7 376.0,93.8 376.4,93.6 376.8,93.7 377.2,93.6 377.6,94.5 378.0,93.7 378.4,94.3 378.8,93.9 379.2,93.8 379.6,94.1 380.0,93.9 380.4,94.7 380.8,94.1 381.2,94.3 381.6,94.3 382.0,94.3 382.4,94.2 382.8,93.9 383.2,93.8 383.6,94.6 384.0,93.9 384.4,94.1 384.8,94.5 385.2,94.3 385.6,94.7 386.0,94.5 386.4,94.2 386.8,93.8 387.2,94.3 387.6,94.2 388.0,94.6 388.4,94.2 388.8,94.4 389.2,94.5 389.6,94.2 390.0,94.6 390.4,94.6 390.8,93.8 391.2,94.7 391.6,94.6 392.0,94.6 392.4,94.0 392.8,93.9 393.2,93.8 393.6,94.1 394.0,94.6 394.4,94.0 394.8,93.7 395.2,94.0 395.6,93.7 396.0,94.3 396.4,94.5 396.8,94.7 397.2,93.7 397.6,94.1 398.0,93.8 398.4,94.7 398.8,94.6 399.2,94.2 399.6,94.7 400.0,94.2 400.4,94.5 400.8,94.2 401.2,94.1 401.6,94.7 402.0,94.6 402.4,94.3 402.8,94.6 403.2,94.4 403.7,94.5 404.1,93.7 404.5,93.8 404.9,93.8 405.3,94.3 405.7,94.4 406.1,93.8 406.5,94.2 406.9,92.2 407.4,91.2 407.7,88.8 408.0,85.5 408.5,85.9 409.0,87.2 409.3,89.1 409.6,91.8 410.1,93.2 410.5,95.5 410.9,95.8 411.2,95.0 411.6,95.2 412.0,95.7 412.4,96.0 412.8,95.9 413.2,95.6 413.6,95.2 414.0,95.8 414.4,95.6 414.8,96.0 415.2,95.8 415.6,95.9 416.0,96.2 416.4,95.8 416.8,96.2 417.2,95.5 417.6,95.2 418.0,96.2 418.4,95.2 418.8,96.3 419.2,95.7 419.6,95.3 420.0,95.6 420.4,96.1 420.8,95.7 421.2,96.0 421.6,95.4 422.0,96.2 422.4,95.7 422.8,96.3 423.2,95.5 423.7,96.1 424.1,95.9 424.5,95.8 424.9,95.4 425.3,96.0 425.7,96.3 426.1,95.6 426.5,95.9 426.9,95.5 427.3,96.6 427.7,96.6 428.1,96.2 428.5,96.0 428.9,95.6 429.3,95.7 429.8,96.3 430.2,96.4 430.6,96.7 431.0,96.5 431.4,96.1 431.8,95.9 432.2,96.2 432.6,96.0 433.0,96.2" fill="none" stroke="#2066e6" stroke-width="1.35" stroke-linejoin="round"/>
<rect x="257.6" y="0.6" width="176.0" height="141.6" fill="none" stroke="#383838" stroke-width="1.3"/>
<line x1="257.60" y1="142.2" x2="257.60" y2="139.39999999999998" stroke="#383838" stroke-width="1"/>
<text transform="translate(250.41,152.60) scale(0.898,1)" font-size="9.6" font-weight="bold">600</text>
<line x1="286.93" y1="142.2" x2="286.93" y2="139.39999999999998" stroke="#383838" stroke-width="1"/>
<text transform="translate(280.03,152.60) scale(0.866,1)" font-size="9.6" font-weight="bold">500</text>
<line x1="316.27" y1="142.2" x2="316.27" y2="139.39999999999998" stroke="#383838" stroke-width="1"/>
<text transform="translate(309.45,152.60) scale(0.861,1)" font-size="9.6" font-weight="bold">400</text>
<line x1="345.60" y1="142.2" x2="345.60" y2="139.39999999999998" stroke="#383838" stroke-width="1"/>
<text transform="translate(338.78,152.60) scale(0.861,1)" font-size="9.6" font-weight="bold">300</text>
<line x1="374.93" y1="142.2" x2="374.93" y2="139.39999999999998" stroke="#383838" stroke-width="1"/>
<text transform="translate(368.03,152.60) scale(0.866,1)" font-size="9.6" font-weight="bold">200</text>
<line x1="404.27" y1="142.2" x2="404.27" y2="139.39999999999998" stroke="#383838" stroke-width="1"/>
<text transform="translate(397.27,152.60) scale(0.863,1)" font-size="9.6" font-weight="bold">100</text>
<line x1="433.60" y1="142.2" x2="433.60" y2="139.39999999999998" stroke="#383838" stroke-width="1"/>
<text transform="translate(430.91,152.60) scale(1.020,1)" font-size="9.6" font-weight="bold">0</text>
<text transform="translate(286.87,166.80) scale(1.002,1)" font-size="11.9" font-weight="bold">Binding Energy (eV)</text>
<line x1="361.8" y1="32.3" x2="382.5" y2="32.3" stroke="#4a4a4a" stroke-width="1.3"/>
<text transform="translate(383.96,35.10) scale(1.114,1)" font-size="8.3" font-weight="normal">LIG</text>
<line x1="361.8" y1="43.4" x2="382.5" y2="43.4" stroke="#f02a30" stroke-width="1.3"/>
<text transform="translate(383.99,45.90) scale(1.070,1)" font-size="8.3" font-weight="normal">L-Au/LIG</text>
<line x1="361.8" y1="53.9" x2="382.5" y2="53.9" stroke="#2066e6" stroke-width="1.3"/>
<text transform="translate(383.99,56.20) scale(1.065,1)" font-size="8.3" font-weight="normal">E-Au/LIG</text>
<text transform="translate(280.62,61.00) scale(0.941,1)" font-size="12.8" font-weight="bold">O1s</text>
<text transform="translate(324.67,22.80) scale(0.873,1)" font-size="12.3" font-weight="bold">C1s</text>
<text transform="translate(382.22,81.80) scale(1.018,1)" font-size="12.6" font-weight="bold">Au4f</text>
<text transform="translate(219.43,17.80) scale(0.595,1)" font-size="17.4" font-weight="bold" stroke="#111" stroke-width="1.18">(</text>
<text transform="translate(224.94,18.50) scale(0.774,1)" font-size="17.8" font-weight="bold" stroke="#111" stroke-width="0.52">B</text>
<text transform="translate(237.15,17.80) scale(0.616,1)" font-size="17.4" font-weight="bold" stroke="#111" stroke-width="1.14">)</text>
<text transform="translate(31.85,350.60) scale(1.082,1)" font-size="8.6" font-weight="bold">E-Au/LIG</text>
<line x1="51.50" y1="341.1" x2="51.50" y2="339.6" stroke="#383838" stroke-width="1"/>
<rect x="77.94" y="320.30" width="17.66" height="20.80" fill="#fecb98" stroke="#2a2a2a" stroke-width="1.1"/>
<line x1="86.77" y1="313.03" x2="86.77" y2="327.57" stroke="#111" stroke-width="1.35"/>
<line x1="84.77" y1="313.03" x2="88.77" y2="313.03" stroke="#111" stroke-width="1.35"/>
<line x1="84.77" y1="327.57" x2="88.77" y2="327.57" stroke="#111" stroke-width="1.35"/>
<rect x="95.60" y="339.40" width="17.66" height="1.70" fill="#9edb9e" stroke="#2a2a2a" stroke-width="1.1"/>
<line x1="104.43" y1="337.56" x2="104.43" y2="341.24" stroke="#111" stroke-width="1.35"/>
<line x1="102.43" y1="337.56" x2="106.43" y2="337.56" stroke="#111" stroke-width="1.35"/>
<line x1="102.43" y1="341.24" x2="106.43" y2="341.24" stroke="#111" stroke-width="1.35"/>
<text transform="translate(75.96,350.60) scale(1.069,1)" font-size="8.6" font-weight="bold">L-Au/LIG</text>
<line x1="95.60" y1="341.1" x2="95.60" y2="339.6" stroke="#383838" stroke-width="1"/>
<rect x="122.09" y="305.16" width="17.66" height="35.94" fill="#fecb98" stroke="#2a2a2a" stroke-width="1.1"/>
<line x1="130.92" y1="296.95" x2="130.92" y2="313.37" stroke="#111" stroke-width="1.35"/>
<line x1="128.92" y1="296.95" x2="132.92" y2="296.95" stroke="#111" stroke-width="1.35"/>
<line x1="128.92" y1="313.37" x2="132.92" y2="313.37" stroke="#111" stroke-width="1.35"/>
<rect x="139.75" y="312.80" width="17.66" height="28.30" fill="#9edb9e" stroke="#2a2a2a" stroke-width="1.1"/>
<line x1="148.58" y1="310.25" x2="148.58" y2="315.35" stroke="#111" stroke-width="1.35"/>
<line x1="146.58" y1="310.25" x2="150.58" y2="310.25" stroke="#111" stroke-width="1.35"/>
<line x1="146.58" y1="315.35" x2="150.58" y2="315.35" stroke="#111" stroke-width="1.35"/>
<text transform="translate(132.26,350.60) scale(1.064,1)" font-size="8.6" font-weight="bold">LIG</text>
<line x1="139.75" y1="341.1" x2="139.75" y2="339.6" stroke="#383838" stroke-width="1"/>
<rect x="166.19" y="278.84" width="17.66" height="62.26" fill="#fecb98" stroke="#2a2a2a" stroke-width="1.1"/>
<line x1="175.02" y1="266.39" x2="175.02" y2="291.29" stroke="#111" stroke-width="1.35"/>
<line x1="173.02" y1="266.39" x2="177.02" y2="266.39" stroke="#111" stroke-width="1.35"/>
<line x1="173.02" y1="291.29" x2="177.02" y2="291.29" stroke="#111" stroke-width="1.35"/>
<rect x="183.85" y="283.93" width="17.66" height="57.17" fill="#9edb9e" stroke="#2a2a2a" stroke-width="1.1"/>
<line x1="192.68" y1="270.92" x2="192.68" y2="296.95" stroke="#111" stroke-width="1.35"/>
<line x1="190.68" y1="270.92" x2="194.68" y2="270.92" stroke="#111" stroke-width="1.35"/>
<line x1="190.68" y1="296.95" x2="194.68" y2="296.95" stroke="#111" stroke-width="1.35"/>
<text transform="translate(167.04,350.60) scale(1.100,1)" font-size="8.6" font-weight="bold">Kapton</text>
<line x1="183.85" y1="341.1" x2="183.85" y2="339.6" stroke="#383838" stroke-width="1"/>
<rect x="29.7" y="199.6" width="176.60" height="141.50" fill="none" stroke="#383838" stroke-width="1.3"/>
<line x1="73.55" y1="341.1" x2="73.55" y2="339.90000000000003" stroke="#383838" stroke-width="1"/>
<line x1="117.67" y1="341.1" x2="117.67" y2="339.90000000000003" stroke="#383838" stroke-width="1"/>
<line x1="161.80" y1="341.1" x2="161.80" y2="339.90000000000003" stroke="#383838" stroke-width="1"/>
<line x1="29.7" y1="341.10" x2="32.7" y2="341.10" stroke="#383838" stroke-width="1"/>
<text transform="translate(26.30,344.40) scale(0.92,1)" font-size="9.8" font-weight="bold" text-anchor="end">0</text>
<line x1="29.7" y1="312.80" x2="32.7" y2="312.80" stroke="#383838" stroke-width="1"/>
<text transform="translate(26.30,316.10) scale(0.92,1)" font-size="9.8" font-weight="bold" text-anchor="end">1</text>
<line x1="29.7" y1="284.50" x2="32.7" y2="284.50" stroke="#383838" stroke-width="1"/>
<text transform="translate(26.30,287.80) scale(0.92,1)" font-size="9.8" font-weight="bold" text-anchor="end">2</text>
<line x1="29.7" y1="256.20" x2="32.7" y2="256.20" stroke="#383838" stroke-width="1"/>
<text transform="translate(26.30,259.50) scale(0.92,1)" font-size="9.8" font-weight="bold" text-anchor="end">3</text>
<line x1="29.7" y1="227.90" x2="32.7" y2="227.90" stroke="#383838" stroke-width="1"/>
<text transform="translate(26.30,231.20) scale(0.92,1)" font-size="9.8" font-weight="bold" text-anchor="end">4</text>
<line x1="29.7" y1="199.60" x2="32.7" y2="199.60" stroke="#383838" stroke-width="1"/>
<text transform="translate(26.30,202.90) scale(0.92,1)" font-size="9.8" font-weight="bold" text-anchor="end">5</text>
<line x1="29.7" y1="326.95" x2="31.3" y2="326.95" stroke="#383838" stroke-width="1"/>
<line x1="29.7" y1="298.65" x2="31.3" y2="298.65" stroke="#383838" stroke-width="1"/>
<line x1="29.7" y1="270.35" x2="31.3" y2="270.35" stroke="#383838" stroke-width="1"/>
<line x1="29.7" y1="242.05" x2="31.3" y2="242.05" stroke="#383838" stroke-width="1"/>
<line x1="29.7" y1="213.75" x2="31.3" y2="213.75" stroke="#383838" stroke-width="1"/>
<text transform="translate(75.00,193.30) scale(0.994,1)" font-size="12.0" font-weight="bold">Without Nafion</text>
<text transform="translate(17.00,302.00) rotate(-90) scale(0.998,1)" font-size="12.0" font-weight="bold">*E6 CFU/ml</text>
<text transform="translate(0.81,195.50) scale(0.616,1)" font-size="17.4" font-weight="bold" stroke="#111" stroke-width="1.14">(</text>
<text transform="translate(6.36,196.20) scale(0.761,1)" font-size="17.8" font-weight="bold" stroke="#111" stroke-width="0.53">C</text>
<text transform="translate(17.75,195.50) scale(0.616,1)" font-size="17.4" font-weight="bold" stroke="#111" stroke-width="1.14">)</text>
<rect x="142.85" y="216.05" width="20.40" height="9.90" fill="#fecb98" stroke="#2a2a2a" stroke-width="1.1"/>
<rect x="142.85" y="227.85" width="20.40" height="9.80" fill="#9edb9e" stroke="#2a2a2a" stroke-width="1.1"/>
<text transform="translate(165.94,224.50) scale(1.042,1)" font-size="8.8" font-weight="normal">2 hours</text>
<text transform="translate(166.22,235.40) scale(1.032,1)" font-size="8.8" font-weight="normal">4 hours</text>
<text transform="translate(266.45,348.50) scale(1.082,1)" font-size="8.6" font-weight="bold">E-Au/LIG</text>
<line x1="286.90" y1="338.7" x2="286.90" y2="337.2" stroke="#383838" stroke-width="1"/>
<rect x="322.25" y="295.40" width="23.45" height="43.30" fill="#fecb98" stroke="#2a2a2a" stroke-width="1.1"/>
<line x1="333.97" y1="282.10" x2="333.97" y2="308.70" stroke="#111" stroke-width="1.35"/>
<line x1="331.97" y1="282.10" x2="335.97" y2="282.10" stroke="#111" stroke-width="1.35"/>
<line x1="331.97" y1="308.70" x2="335.97" y2="308.70" stroke="#111" stroke-width="1.35"/>
<rect x="345.70" y="302.19" width="23.45" height="36.51" fill="#9edb9e" stroke="#2a2a2a" stroke-width="1.1"/>
<line x1="357.43" y1="299.79" x2="357.43" y2="304.60" stroke="#111" stroke-width="1.35"/>
<line x1="355.43" y1="299.79" x2="359.43" y2="299.79" stroke="#111" stroke-width="1.35"/>
<line x1="355.43" y1="304.60" x2="359.43" y2="304.60" stroke="#111" stroke-width="1.35"/>
<text transform="translate(325.34,348.50) scale(1.089,1)" font-size="8.6" font-weight="bold">L-Au/LIG</text>
<line x1="345.70" y1="338.7" x2="345.70" y2="337.2" stroke="#383838" stroke-width="1"/>
<rect x="381.05" y="306.15" width="23.45" height="32.55" fill="#fecb98" stroke="#2a2a2a" stroke-width="1.1"/>
<line x1="392.77" y1="303.89" x2="392.77" y2="308.42" stroke="#111" stroke-width="1.35"/>
<line x1="390.77" y1="303.89" x2="394.77" y2="303.89" stroke="#111" stroke-width="1.35"/>
<line x1="390.77" y1="308.42" x2="394.77" y2="308.42" stroke="#111" stroke-width="1.35"/>
<rect x="404.50" y="307.85" width="23.45" height="30.85" fill="#9edb9e" stroke="#2a2a2a" stroke-width="1.1"/>
<line x1="416.23" y1="303.04" x2="416.23" y2="312.66" stroke="#111" stroke-width="1.35"/>
<line x1="414.23" y1="303.04" x2="418.23" y2="303.04" stroke="#111" stroke-width="1.35"/>
<line x1="414.23" y1="312.66" x2="418.23" y2="312.66" stroke="#111" stroke-width="1.35"/>
<text transform="translate(396.35,348.50) scale(1.079,1)" font-size="8.6" font-weight="bold">LIG</text>
<line x1="404.50" y1="338.7" x2="404.50" y2="337.2" stroke="#383838" stroke-width="1"/>
<rect x="257.7" y="197.2" width="175.90" height="141.50" fill="none" stroke="#383838" stroke-width="1.3"/>
<line x1="316.30" y1="338.7" x2="316.30" y2="337.5" stroke="#383838" stroke-width="1"/>
<line x1="375.10" y1="338.7" x2="375.10" y2="337.5" stroke="#383838" stroke-width="1"/>
<line x1="257.7" y1="338.70" x2="260.7" y2="338.70" stroke="#383838" stroke-width="1"/>
<text transform="translate(254.30,342.00) scale(0.92,1)" font-size="9.8" font-weight="bold" text-anchor="end">0</text>
<line x1="257.7" y1="310.40" x2="260.7" y2="310.40" stroke="#383838" stroke-width="1"/>
<text transform="translate(254.30,313.70) scale(0.92,1)" font-size="9.8" font-weight="bold" text-anchor="end">1</text>
<line x1="257.7" y1="282.10" x2="260.7" y2="282.10" stroke="#383838" stroke-width="1"/>
<text transform="translate(254.30,285.40) scale(0.92,1)" font-size="9.8" font-weight="bold" text-anchor="end">2</text>
<line x1="257.7" y1="253.80" x2="260.7" y2="253.80" stroke="#383838" stroke-width="1"/>
<text transform="translate(254.30,257.10) scale(0.92,1)" font-size="9.8" font-weight="bold" text-anchor="end">3</text>
<line x1="257.7" y1="225.50" x2="260.7" y2="225.50" stroke="#383838" stroke-width="1"/>
<text transform="translate(254.30,228.80) scale(0.92,1)" font-size="9.8" font-weight="bold" text-anchor="end">4</text>
<line x1="257.7" y1="197.20" x2="260.7" y2="197.20" stroke="#383838" stroke-width="1"/>
<text transform="translate(254.30,200.50) scale(0.92,1)" font-size="9.8" font-weight="bold" text-anchor="end">5</text>
<line x1="257.7" y1="324.55" x2="259.3" y2="324.55" stroke="#383838" stroke-width="1"/>
<line x1="257.7" y1="296.25" x2="259.3" y2="296.25" stroke="#383838" stroke-width="1"/>
<line x1="257.7" y1="267.95" x2="259.3" y2="267.95" stroke="#383838" stroke-width="1"/>
<line x1="257.7" y1="239.65" x2="259.3" y2="239.65" stroke="#383838" stroke-width="1"/>
<line x1="257.7" y1="211.35" x2="259.3" y2="211.35" stroke="#383838" stroke-width="1"/>
<text transform="translate(316.00,192.70) scale(0.991,1)" font-size="12.0" font-weight="bold">With Nafion</text>
<text transform="translate(245.00,299.30) rotate(-90) scale(1.006,1)" font-size="12.0" font-weight="bold">*E6 CFU/ml</text>
<text transform="translate(219.30,195.00) scale(0.636,1)" font-size="17.4" font-weight="bold" stroke="#111" stroke-width="1.10">(</text>
<text transform="translate(225.39,195.70) scale(0.810,1)" font-size="17.8" font-weight="bold" stroke="#111" stroke-width="0.49">D</text>
<text transform="translate(238.15,195.00) scale(0.657,1)" font-size="17.4" font-weight="bold" stroke="#111" stroke-width="1.07">)</text>
<rect x="370.65" y="213.85" width="19.80" height="9.50" fill="#fecb98" stroke="#2a2a2a" stroke-width="1.1"/>
<rect x="370.65" y="225.25" width="19.80" height="9.60" fill="#9edb9e" stroke="#2a2a2a" stroke-width="1.1"/>
<text transform="translate(393.64,221.80) scale(1.056,1)" font-size="8.8" font-weight="normal">2 hours</text>
<text transform="translate(393.92,232.60) scale(1.046,1)" font-size="8.8" font-weight="normal">4 hours</text>
</svg>
</body></html>
